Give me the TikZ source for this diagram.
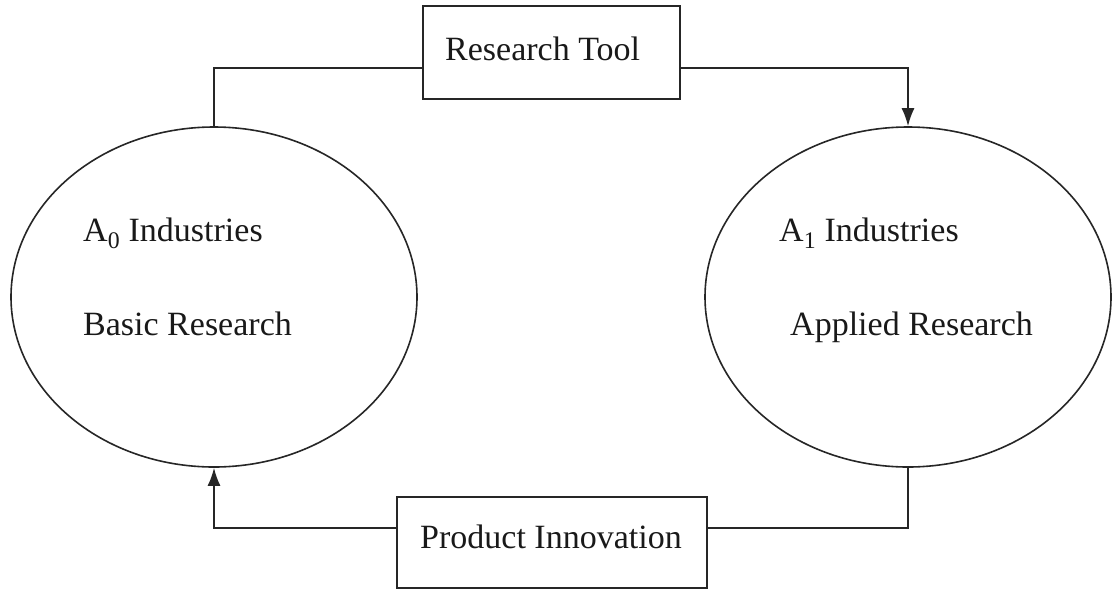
\documentclass[tikz,border=0pt]{standalone}
\usepackage{fontspec}
\setmainfont{Liberation Serif}
\usetikzlibrary{shapes.geometric,arrows.meta}
\tikzset{
  conn/.style={draw=black!85, line width=1.8pt},
  arr/.style={conn, -{Latex[length=18pt,width=13pt]}},
  oval/.style={ellipse, draw=black!85, line width=1.6pt, minimum width=406pt, minimum height=340pt, inner sep=0pt},
  box/.style={rectangle, draw=black!85, line width=1.8pt, inner sep=0pt},
  txt/.style={anchor=base west, inner sep=0pt, text=black!90, font=\fontsize{34}{40}\selectfont}
}
\begin{document}
\begin{tikzpicture}[x=1pt,y=-1pt]
\useasboundingbox (0,0) rectangle (1112,590);
\node[oval] (L) at (214,297) {};
\node[oval] (R) at (908,297) {};
\node[box, minimum width=257pt, minimum height=93pt] (T) at (551.5,52.5) {};
\node[box, minimum width=310pt, minimum height=91pt] (B) at (552,542.5) {};
\node[txt] (l1) at (83,241) {A\textsubscript{0} Industries};
\node[txt] (l2) at (83,335) {Basic Research};
\node[txt] (r1) at (779,241) {A\textsubscript{1} Industries};
\node[txt] (r2) at (790,335) {Applied Research};
\node[txt] (tt) at (445,60) {Research Tool};
\node[txt] (bt) at (420,548) {Product Innovation};
\coordinate (t1) at (0,68);
\coordinate (b1) at (0,528);
\draw[conn] (L.north) |- (T.west |- t1);
\draw[arr] (T.east |- t1) -| (R.north);
\draw[conn] (R.south) |- (B.east |- b1);
\draw[arr] (B.west |- b1) -| (L.south);
\end{tikzpicture}
\end{document}
